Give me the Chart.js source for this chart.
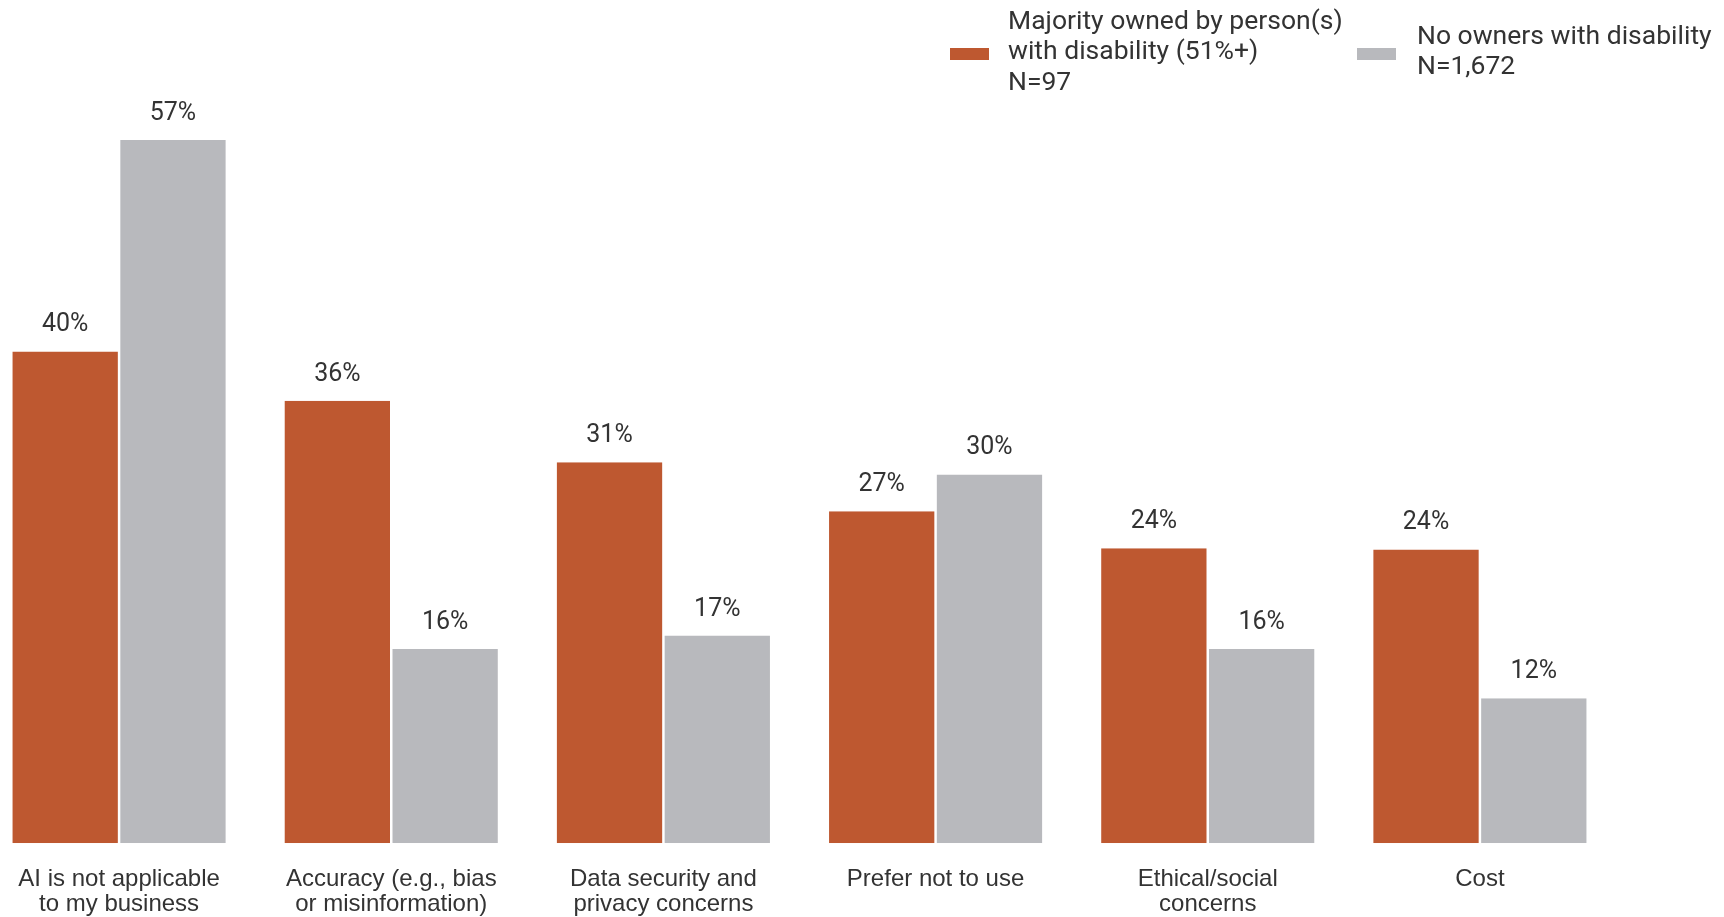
<!DOCTYPE html>
<html>
<head>
<meta charset="utf-8">
<script src="https://cdn.jsdelivr.net/npm/chart.js@4/dist/chart.umd.min.js"></script>
<style>
  body { margin: 0; background: #fff; }
  #wrap { position: relative; width: 1724px; height: 917px; overflow: hidden; }
  #plot { position: absolute; left: -17px; top: 0; width: 1741px; height: 940px; }
  .legend { position: absolute; font-family: Roboto, sans-serif; font-size: 26.5px; line-height: 30.5px; color: #333; white-space: nowrap; }
  .swatch { position: absolute; width: 39px; height: 12px; }
</style>
</head>
<body>
<div id="wrap">
  <div id="plot"><canvas id="chart"></canvas></div>
  <div class="swatch" style="left:950px;top:48px;background:#BE5830"></div>
  <div class="legend" style="left:1008px;top:4.5px">Majority owned by person(s)<br>with disability (51%+)<br>N=97</div>
  <div class="swatch" style="left:1357px;top:48px;background:#B8B9BD"></div>
  <div class="legend" style="left:1417px;top:19.5px">No owners with disability<br>N=1,672</div>
</div>
<script>
const categories = [
  ['AI is not applicable', 'to my business'],
  ['Accuracy (e.g., bias', 'or misinformation)'],
  ['Data security and', 'privacy concerns'],
  'Prefer not to use',
  ['Ethical/social', 'concerns'],
  'Cost'
];
const majorityDisability = [40, 36, 31, 27, 24, 23.9];
const noDisability = [57.2, 15.8, 16.9, 30, 15.8, 11.8];

// percent labels above each bar
const valueLabels = {
  id: 'valueLabels',
  afterDatasetsDraw(chart) {
    const ctx = chart.ctx;
    ctx.save();
    ctx.font = '25px Roboto';
    ctx.fillStyle = '#333';
    ctx.textAlign = 'center';
    ctx.textBaseline = 'alphabetic';
    chart.data.datasets.forEach((ds, i) => {
      chart.getDatasetMeta(i).data.forEach((bar, j) => {
        ctx.fillText(Math.round(ds.data[j]) + '%', bar.x, bar.y - 20);
      });
    });
    ctx.restore();
  }
};

const ctx = document.getElementById('chart').getContext('2d');
new Chart(ctx, {
  type: 'bar',
  data: {
    labels: categories,
    datasets: [{
      label: 'Majority owned by person(s) with disability (51%+) N=97',
      data: majorityDisability,
      backgroundColor: '#BE5830',
      borderColor: '#fff',
      borderWidth: { left: 1.25, right: 1.25, top: 0, bottom: 0 }
    }, {
      label: 'No owners with disability N=1,672',
      data: noDisability,
      backgroundColor: '#B8B9BD',
      borderColor: '#fff',
      borderWidth: { left: 1.25, right: 1.25, top: 0, bottom: 0 }
    }]
  },
  options: {
    responsive: true,
    maintainAspectRatio: false,
    animation: false,
    categoryPercentage: 0.792,
    barPercentage: 1,
    layout: { padding: { left: 0, right: 108, top: 105.5, bottom: 0 } },
    plugins: {
      legend: { display: false },
      tooltip: { enabled: false }
    },
    scales: {
      x: {
        grid: { display: false, drawTicks: false },
        border: { display: false },
        ticks: {
          padding: 23,
          autoSkip: false,
          maxRotation: 0,
          color: '#333',
          font: { family: 'Liberation Sans', size: 24, lineHeight: 1.055 }
        }
      },
      y: {
        display: false,
        min: 0,
        max: 60
      }
    }
  },
  plugins: [valueLabels]
});
</script>
</body>
</html>
